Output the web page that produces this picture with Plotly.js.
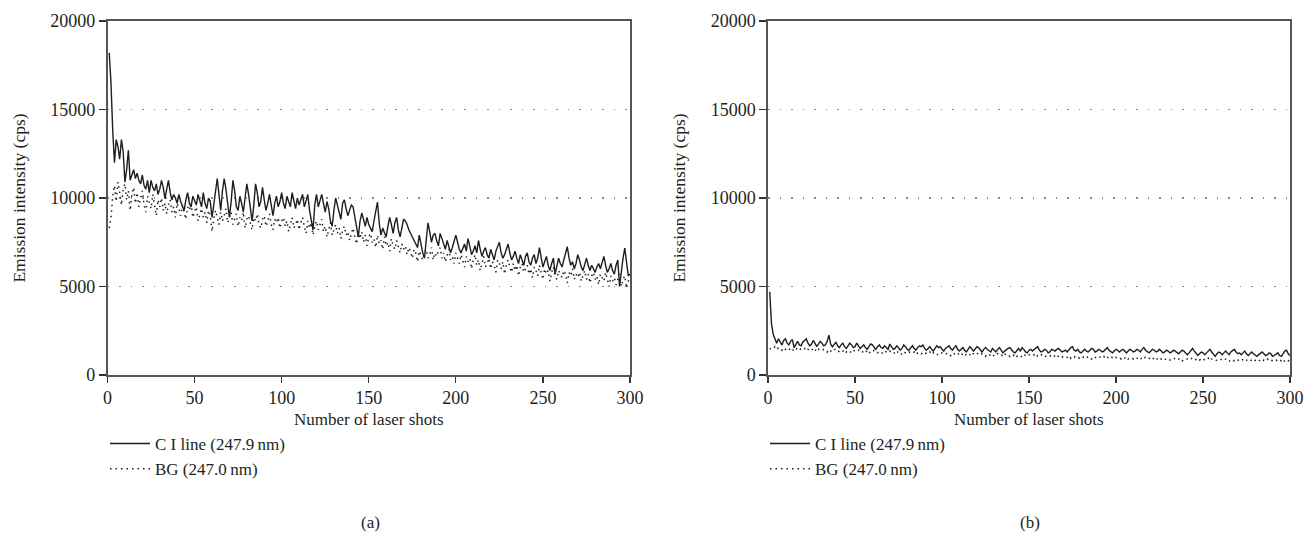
<!DOCTYPE html>
<html>
<head>
<meta charset="utf-8">
<script src="https://cdn.plot.ly/plotly-3.0.1.min.js"></script>
<style>html,body{margin:0;padding:0;background:#fff;}#chart{width:1309px;height:547px;}</style>
</head>
<body>
<div id="chart"></div>
<script>
// Shots 1..300
const shots = Array.from({length: 300}, (_, i) => i + 1);

// Panel (a): C I line (247.9 nm)
const aCI = [
18200,16500,13800,12000,13300,12900,12200,13300,12600,10900,
11600,12700,11000,11300,11600,11100,11400,11000,10800,11300,
10700,10500,11000,10300,11000,10600,10400,10800,10200,10500,
11000,10600,9960,10500,11000,10300,9900,10200,10000,9700,
10200,9800,9500,9300,9900,10300,9700,9500,10100,9800,
9600,10200,9900,9500,10300,9700,9400,10000,9800,8900,
9600,10500,11100,10200,9300,10400,11100,10500,9600,8900,
9800,11000,10400,9500,9300,10100,9700,9200,10000,10800,
10200,9400,8700,9600,10800,10300,9500,9800,10600,9900,
9300,9700,10200,9600,9000,9700,10100,9500,9800,10300,
9700,9400,10100,9800,9500,10300,9900,9400,10000,9600,
9900,10200,9500,9800,10200,9300,8800,8200,9600,10200,
9500,9900,10200,9700,9200,9800,9400,8700,8400,9300,
10000,9600,9100,8800,9700,9900,9400,9000,9300,9600,
9500,8900,8300,7800,8700,9150,8800,8400,8900,8500,
8300,8100,8700,9300,9770,8600,7900,8300,8000,7800,
8400,8900,8500,8000,8600,8900,8200,7800,8300,8800,
8700,8500,8200,8000,7800,7600,7400,7200,7900,7300,
6900,6600,7600,8600,8100,7500,7900,8000,7600,7300,
8000,7700,7300,7100,7600,7300,6900,7200,7500,7900,
7500,7100,6900,7200,7400,7000,7700,7300,6800,7000,
7300,6900,7600,7100,6700,7000,7200,6800,6600,7100,
6800,6500,7000,7300,7500,6900,6600,6800,7100,7400,
6900,6500,6700,7000,6600,6300,6800,6500,6200,6700,
6900,6400,6200,6600,6800,6300,6600,7200,6500,6100,
6400,6700,6200,5900,6300,6600,5700,6200,6600,6300,
6100,6500,6900,7250,6600,6200,6400,6000,6300,6800,
6500,6100,5900,6300,6600,6200,5900,6200,6000,5800,
6100,6300,6000,6400,6700,6200,5800,6000,6300,5900,
5700,6200,6500,5000,5900,6600,7170,6300,5600,5700
];

// Panel (a): BG (247.0 nm)
const aBG = [
8300,8900,10100,10700,9800,10900,10300,9600,10500,10800,
9900,10400,9300,10200,10600,9700,10300,9500,10000,10400,
9600,9200,10100,9800,9400,10200,9700,9000,9900,9500,
10000,9300,9700,9100,9600,9900,9200,9500,8900,9700,
9400,9000,9600,9200,8800,9500,9300,9700,8900,9200,
9500,8700,9100,9400,8900,9200,8600,9300,9000,8100,
8800,9300,8900,8500,9200,8700,9000,9400,8600,8900,
9200,8500,8800,9100,8400,8900,8700,9200,8300,8800,
9000,8600,8200,8900,8700,9100,8500,8300,8800,9000,
8400,8700,9100,8500,8200,8800,8600,8900,8300,8700,
8900,8400,8700,8100,8600,8900,8300,8500,8800,8200,
8600,8900,8400,8000,8700,8300,8600,7900,8400,8700,
8200,8500,8800,8100,8400,7800,8300,8600,7900,8200,
8500,8000,8300,7700,8200,8400,7900,8100,7600,8000,
8300,7800,7400,8000,7700,8100,7500,7900,7300,7800,
8000,7500,7700,7200,7900,7400,7600,7100,7800,7300,
7500,7000,7700,7300,7100,7600,7200,6900,7400,7100,
7300,6800,7200,7000,6600,7100,6900,6400,7000,6700,
6500,6900,7100,6600,6800,7200,6500,6900,6700,7000,
7200,6600,6900,6400,6800,7100,6500,6700,6300,6900,
6600,6300,6800,6500,6100,6700,6400,6600,6000,6500,
6800,6200,6500,5900,6400,6700,6100,6300,6600,6000,
6400,6200,5800,6500,6300,6000,6400,5700,6200,6500,
6100,5800,6300,5900,6200,5600,6100,6300,5800,6000,
6200,5700,6000,5500,6100,5900,5600,6200,5800,5400,
6000,5700,5900,5300,5800,6100,5600,5400,5900,5700,
5500,5900,5700,5200,5800,5600,6000,5400,5700,5500,
5800,5300,5600,5900,5400,5700,5200,5600,5800,5400,
5600,5100,5700,5500,5300,5800,5400,5000,5600,5300,
5500,5100,5400,5700,5000,5400,5600,4900,5300,5500
];

// Panel (b): C I line (247.9 nm)
const bCI = [
4700,2900,2300,2050,1800,2050,1850,1700,1950,2050,
1800,1700,1900,2000,1550,1750,1900,1700,1650,1850,
1950,2050,1800,1650,1750,1950,1800,1600,1750,1900,
1800,1650,1700,1900,2250,1750,1600,1700,1850,1650,
1550,1700,1800,1600,1500,1650,1800,1700,1550,1600,
1800,1650,1500,1600,1700,1550,1450,1600,1750,1700,
1550,1450,1600,1700,1550,1500,1650,1550,1450,1750,
1600,1450,1500,1650,1550,1400,1500,1700,1600,1450,
1400,1550,1650,1500,1400,1550,1650,1600,1700,1500,
1400,1500,1600,1450,1350,1500,1650,1550,1600,1450,
1350,1500,1600,1650,1500,1400,1550,1650,1450,1350,
1450,1550,1400,1300,1450,1600,1500,1350,1450,1600,
1550,1400,1300,1450,1550,1450,1350,1300,1500,1400,
1300,1450,1550,1400,1250,1350,1450,1500,1550,1400,
1300,1250,1400,1500,1350,1550,1450,1300,1250,1400,
1450,1350,1450,1550,1600,1400,1300,1350,1450,1400,
1250,1300,1450,1400,1350,1450,1500,1400,1300,1350,
1400,1300,1450,1550,1600,1400,1350,1450,1300,1250,
1350,1450,1350,1300,1400,1500,1450,1300,1350,1450,
1400,1300,1350,1450,1550,1400,1300,1250,1350,1450,
1400,1300,1400,1450,1350,1250,1350,1450,1400,1300,
1350,1450,1400,1300,1450,1550,1400,1300,1250,1350,
1450,1400,1300,1350,1450,1350,1250,1300,1400,1350,
1250,1300,1400,1350,1250,1200,1300,1400,1350,1250,
1150,1250,1400,1500,1350,1200,1100,1200,1300,1250,
1150,1250,1350,1450,1300,1150,1050,1200,1300,1250,
1150,1250,1350,1250,1150,1300,1400,1450,1300,1200,
1250,1150,1250,1350,1200,1100,1200,1300,1200,1100,
1050,1150,1250,1300,1200,1100,1150,1250,1200,1050,
1100,1200,1250,1100,1050,1200,1350,1400,1200,1100
];

// Panel (b): BG (247.0 nm)
const bBG = [
1450,1550,1500,1600,1450,1550,1500,1400,1550,1450,
1500,1400,1550,1450,1350,1500,1450,1550,1400,1450,
1500,1350,1450,1400,1500,1350,1450,1300,1450,1400,
1350,1450,1400,1300,1450,1350,1400,1500,1350,1400,
1300,1400,1350,1450,1300,1400,1350,1250,1400,1350,
1300,1400,1350,1250,1400,1300,1350,1200,1350,1300,
1400,1300,1250,1350,1300,1200,1350,1300,1250,1350,
1250,1300,1200,1350,1250,1300,1150,1300,1250,1200,
1300,1250,1200,1300,1150,1250,1300,1200,1250,1150,
1250,1200,1300,1150,1250,1200,1100,1250,1200,1250,
1200,1150,1250,1200,1100,1250,1200,1150,1250,1100,
1200,1150,1250,1100,1200,1150,1050,1200,1150,1250,
1150,1100,1200,1150,1050,1200,1150,1100,1200,1050,
1150,1200,1100,1150,1050,1200,1100,1150,1050,1150,
1100,1200,1050,1150,1100,1000,1150,1100,1050,1150,
1100,1050,1150,1000,1100,1050,1150,1050,1000,1100,
1050,1100,1000,1100,1050,950,1100,1050,1000,1100,
1050,1000,1100,950,1050,1000,1100,1000,950,1050,
1000,1050,950,1050,1000,900,1050,1000,950,1050,
1000,950,1050,900,1000,950,1050,950,900,1000,
950,1000,900,1000,950,1050,900,950,1000,900,
1000,950,900,1000,850,950,1000,900,950,850,
950,900,1000,850,950,900,950,850,950,900,
850,950,900,950,850,900,950,800,900,950,
900,850,950,900,800,900,950,850,900,800,
900,850,950,800,900,850,900,800,850,900,
850,800,900,850,750,900,850,800,900,850,
800,900,850,750,850,900,800,850,750,850,
900,800,850,750,850,800,900,800,750,850,
800,850,750,850,800,900,750,850,800,850
];

const seriesNames = ["C I line (247.9\u2009nm)", "BG (247.0\u2009nm)"];
const xTitle = "Number of laser shots";
const yTitle = "Emission intensity (cps)";
const panelLabels = ["(a)", "(b)"];

const FONT = "Liberation Serif, Times New Roman, serif";
const TXT = "#231f20";
const W = 1309, H = 547;

const solid = {color: "#1e1e1e", width: 1.4};
const dotted = {color: "#1e1e1e", width: 1.5, dash: "1.5px,4px"};

const traces = [
  {x: shots, y: aCI, type: "scatter", mode: "lines", name: seriesNames[0], line: solid, xaxis: "x", yaxis: "y", legend: "legend"},
  {x: shots, y: aBG, type: "scatter", mode: "lines", name: seriesNames[1], line: dotted, xaxis: "x", yaxis: "y", legend: "legend"},
  {x: shots, y: bCI, type: "scatter", mode: "lines", name: seriesNames[0], line: solid, xaxis: "x2", yaxis: "y2", legend: "legend2"},
  {x: shots, y: bBG, type: "scatter", mode: "lines", name: seriesNames[1], line: dotted, xaxis: "x2", yaxis: "y2", legend: "legend2"}
];

const yDom = [(H - 375) / H, (H - 21) / H];
function xax(dom) {
  return {
    domain: dom, range: [0, 300], dtick: 50, tick0: 0,
    showline: true, mirror: true, linecolor: "#555", linewidth: 1.6,
    ticks: "outside", ticklen: 6, tickwidth: 1.3, tickcolor: "#333",
    showgrid: false, zeroline: false,
    tickfont: {family: FONT, size: 18, color: TXT},
    automargin: false
  };
}
function yax(anchor) {
  return {
    domain: yDom, range: [0, 20000], dtick: 5000, tick0: 0, tickformat: "d",
    anchor: anchor,
    showline: true, mirror: true, linecolor: "#555", linewidth: 1.6,
    ticks: "outside", ticklen: 7, tickwidth: 1.3, tickcolor: "#333",
    showgrid: true, gridcolor: "#888", gridwidth: 1.5, griddash: "1.5px,10px",
    zeroline: false,
    tickfont: {family: FONT, size: 18, color: TXT},
    title: {text: yTitle, font: {family: FONT, size: 17.5, color: TXT}, standoff: 20},
    automargin: false
  };
}

const legendCommon = {
  xanchor: "left", yanchor: "top",
  font: {family: FONT, size: 17, color: TXT}, bgcolor: "rgba(0,0,0,0)",
  tracegroupgap: 0, itemwidth: 40
};

function label(text, xpx, ypx) {
  return {text: text, xref: "paper", yref: "paper", x: xpx / W, y: (H - ypx) / H,
          showarrow: false, xanchor: "center", yanchor: "middle",
          font: {family: FONT, size: 17, color: TXT}};
}

const layout = {
  width: W, height: H,
  margin: {l: 0, r: 0, t: 0, b: 0},
  paper_bgcolor: "#fff", plot_bgcolor: "#fff",
  font: {family: FONT, size: 17, color: TXT},
  xaxis: Object.assign(xax([107.5 / W, 630 / W]), {anchor: "y"}),
  yaxis: yax("x"),
  xaxis2: Object.assign(xax([768 / W, 1290 / W]), {anchor: "y2"}),
  yaxis2: yax("x2"),
  legend: Object.assign({x: 105 / W, y: (H - 426) / H}, legendCommon),
  legend2: Object.assign({x: 765 / W, y: (H - 426) / H}, legendCommon),
  annotations: [
    label(xTitle, 369, 419),
    label(xTitle, 1029, 419),
    label(panelLabels[0], 370, 522),
    label(panelLabels[1], 1030, 522)
  ]
};

Plotly.newPlot("chart", traces, layout, {staticPlot: true, displayModeBar: false});
</script>
</body>
</html>
